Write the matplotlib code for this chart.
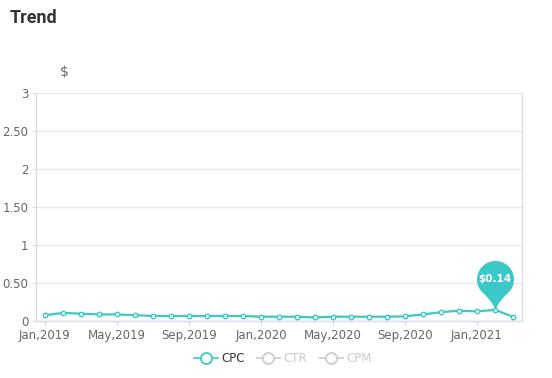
import numpy as np
import matplotlib
matplotlib.use("Agg")
import matplotlib.pyplot as plt
from matplotlib.path import Path
from matplotlib.lines import Line2D

# data (CPC, $ per month)
months = ['Jan,2019', 'Feb,2019', 'Mar,2019', 'Apr,2019', 'May,2019', 'Jun,2019',
          'Jul,2019', 'Aug,2019', 'Sep,2019', 'Oct,2019', 'Nov,2019', 'Dec,2019',
          'Jan,2020', 'Feb,2020', 'Mar,2020', 'Apr,2020', 'May,2020', 'Jun,2020',
          'Jul,2020', 'Aug,2020', 'Sep,2020', 'Oct,2020', 'Nov,2020', 'Dec,2020',
          'Jan,2021', 'Feb,2021', 'Mar,2021']
cpc = [0.07, 0.10, 0.09, 0.08, 0.08, 0.07, 0.06, 0.06, 0.06, 0.06, 0.06, 0.06,
       0.05, 0.05, 0.05, 0.04, 0.05, 0.05, 0.05, 0.05, 0.055, 0.08, 0.11, 0.13,
       0.12, 0.14, 0.05]
yticks = [0, 0.5, 1, 1.5, 2, 2.5, 3]
ytick_labels = ['0', '0.50', '1', '1.50', '2', '2.50', '3']
legend_names = ['CPC', 'CTR', 'CPM']

teal = '#3cc8c8'
grey_txt = '#666666'
grid_c = '#e8e9ee'
axis_c = '#d9dce6'
off_c = '#cccccc'

W, H = 552, 378
fig = plt.figure(figsize=(W / 100, H / 100), dpi=100)
ax = fig.add_axes([36 / W, 1 - 320.5 / H, 486 / W, 227.5 / H])

x = np.arange(len(months))
ax.plot(x, cpc, color=teal, lw=1.6, marker='o', ms=3.2, mfc='white',
        mec=teal, mew=1.0, zorder=3, clip_on=False)

ax.set_xlim(-0.5, len(months) - 0.5)
ax.set_ylim(0, 3)
ax.set_yticks(yticks)
ax.set_yticklabels(ytick_labels)
ax.set_xticks(x[::4])
ax.set_xticklabels(months[::4])
ax.grid(axis='y', color=grid_c, lw=1)
ax.set_axisbelow(True)
ax.tick_params(axis='y', length=3, color=axis_c, labelsize=8.5, labelcolor=grey_txt, pad=2.5)
ax.tick_params(axis='x', length=3.5, color=axis_c, labelsize=8.5, labelcolor=grey_txt, pad=2.5)
for s in ['left', 'right', 'bottom']:
    ax.spines[s].set_color(axis_c)
    ax.spines[s].set_linewidth(1)
ax.spines['top'].set_visible(False)

# pin marker at the max point
r, cy = 18.5, 31.0
th = np.radians(np.linspace(-38, 218, 80))
circ = np.column_stack([r * np.cos(th), cy + r * np.sin(th)])
p0 = circ[-1]
t = np.linspace(0, 1, 15)[:, None]
ctrl = np.array([-2.0, 8.0])
left_tail = (1 - t) ** 2 * p0 + 2 * (1 - t) * t * ctrl + t ** 2 * np.array([0.0, 0.0])
ctrl2 = np.array([2.0, 8.0])
right_tail = (1 - t) ** 2 * np.array([0.0, 0.0]) + 2 * (1 - t) * t * ctrl2 + t ** 2 * circ[0]
verts = np.vstack([circ, left_tail[1:], right_tail[1:]])
pin = Path(verts, closed=False)
ext = np.abs(verts).max()
imax = int(np.argmax(cpc))
ax.plot(x[imax], cpc[imax], marker=pin, ms=2 * ext * 0.72, color=teal,
        mec='none', zorder=5, clip_on=False)
ax.annotate('$%.2f' % cpc[imax], (x[imax], cpc[imax]), xytext=(0, cy * 0.72),
            textcoords='offset points', ha='center', va='center', color='white',
            fontsize=7.5, fontweight='bold', zorder=6)

fig.text(10 / W, 1 - 18 / H, 'Trend', fontsize=13, fontweight='bold',
         family=['Roboto', 'DejaVu Sans'], color='#333333', va='center', ha='left')
fig.text(64 / W, 1 - 72 / H, '$', fontsize=10, color=grey_txt, va='center', ha='center')

handles = []
for i, name in enumerate(legend_names):
    c = teal if i == 0 else off_c
    handles.append(Line2D([], [], color=c, lw=1.2, marker='o', ms=8,
                          mfc='white', mec=c, mew=1.3))
leg = fig.legend(handles, legend_names, loc='center', ncol=3,
                 bbox_to_anchor=(283 / W, 1 - 359 / H), frameon=False,
                 fontsize=8.5, handlelength=2.0, handletextpad=0.3,
                 columnspacing=1.0)
for i, txt in enumerate(leg.get_texts()):
    txt.set_color('#333333' if i == 0 else off_c)

fig.savefig('out.png', dpi=100)
